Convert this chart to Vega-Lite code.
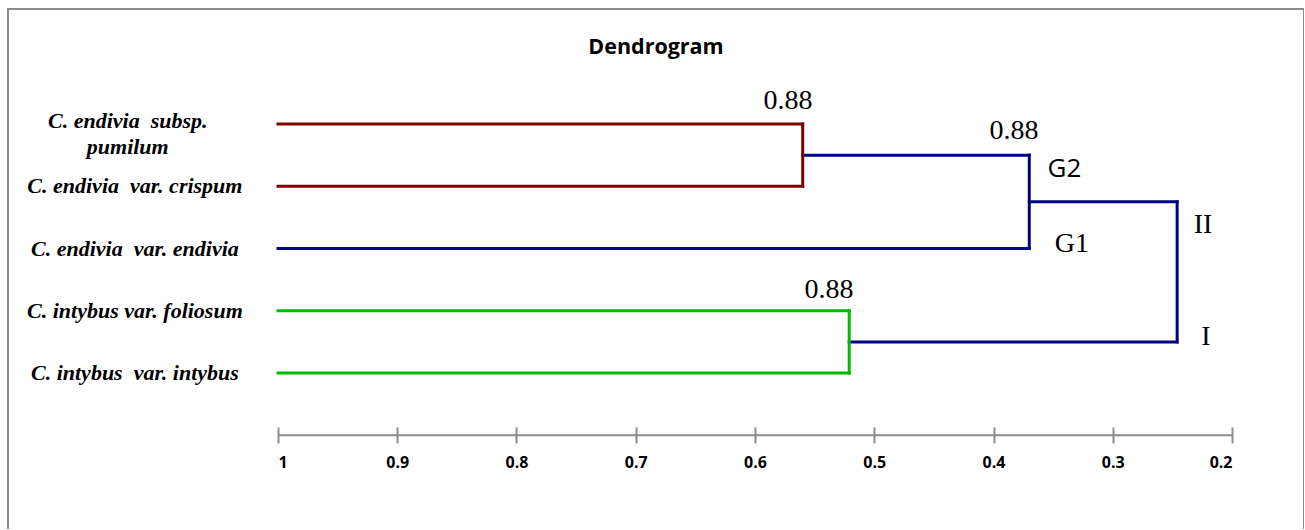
{
  "$schema": "https://vega.github.io/schema/vega-lite/v6.json",
  "width": 1296,
  "height": 520,
  "autosize": {"type": "none"},
  "padding": {"left": 8, "top": 9, "right": 0, "bottom": 0},
  "background": "white",
  "config": {
    "view": {"stroke": "#8c8c8c", "strokeWidth": 2, "strokeDash": [1816, 1296, 520]},
    "axisX": {
      "labelFont": "Open Sans",
      "labelFontWeight": "bold",
      "labelFontSize": 16,
      "labelColor": "#000000",
      "labelPadding": 11,
      "tickSize": 16,
      "tickColor": "#8c8c8c",
      "tickWidth": 2,
      "domain": false,
      "grid": false
    }
  },
  "title": {
    "text": "Dendrogram",
    "font": "Open Sans",
    "fontSize": 21.5,
    "fontWeight": "bold",
    "color": "#000000",
    "anchor": "middle",
    "baseline": "middle",
    "offset": -60
  },
  "datasets": {
    "segments": [
      {"x1": 1, "x2": 0.37, "y1": 3, "y2": 3, "cluster": "main"},
      {"x1": 0.56, "x2": 0.37, "y1": 1.5, "y2": 1.5, "cluster": "main"},
      {"x1": 0.37, "x2": 0.37, "y1": 1.5, "y2": 3, "cluster": "main"},
      {"x1": 0.37, "x2": 0.246, "y1": 2.25, "y2": 2.25, "cluster": "main"},
      {"x1": 0.246, "x2": 0.246, "y1": 2.25, "y2": 4.5, "cluster": "main"},
      {"x1": 0.521, "x2": 0.246, "y1": 4.5, "y2": 4.5, "cluster": "main"},
      {"x1": 1, "x2": 0.56, "y1": 1, "y2": 1, "cluster": "endivia"},
      {"x1": 1, "x2": 0.56, "y1": 2, "y2": 2, "cluster": "endivia"},
      {"x1": 0.56, "x2": 0.56, "y1": 1, "y2": 2, "cluster": "endivia"},
      {"x1": 1, "x2": 0.521, "y1": 4, "y2": 4, "cluster": "intybus"},
      {"x1": 1, "x2": 0.521, "y1": 5, "y2": 5, "cluster": "intybus"},
      {"x1": 0.521, "x2": 0.521, "y1": 4, "y2": 5, "cluster": "intybus"}
    ],
    "leaves": [
      {"name": "C. endivia\u00a0 subsp.\npumilum", "pos": 1, "lines": 2},
      {"name": "C. endivia\u00a0 var. crispum", "pos": 2, "lines": 1},
      {"name": "C. endivia\u00a0 var. endivia", "pos": 3, "lines": 1},
      {"name": "C. intybus var. foliosum", "pos": 4, "lines": 1},
      {"name": "C. intybus\u00a0 var. intybus", "pos": 5, "lines": 1}
    ],
    "notes": [
      {"text": "0.88", "x": 0.5723, "y": 0.759},
      {"text": "0.88", "x": 0.3828, "y": 1.241},
      {"text": "0.88", "x": 0.5379, "y": 3.795},
      {"text": "G1", "x": 0.3342, "y": 3.056},
      {"text": "II", "x": 0.2243, "y": 2.751},
      {"text": "I", "x": 0.2218, "y": 4.55}
    ],
    "groups": [
      {"text": "G2", "x": 0.3405, "y": 1.851}
    ]
  },
  "layer": [
    {
      "data": {"name": "segments"},
      "mark": {"type": "rule", "strokeWidth": 3, "strokeCap": "square"},
      "encoding": {
        "x": {
          "field": "x1",
          "type": "quantitative",
          "scale": {"domain": [1, 0.2], "range": [270, 1224], "nice": false, "zero": false},
          "axis": {
            "orient": "bottom",
            "offset": -102,
            "values": [1, 0.9, 0.8, 0.7, 0.6, 0.5, 0.4, 0.3, 0.2],
            "format": ".1~f",
            "domain": false,
            "grid": false,
            "tickSize": 16,
            "tickColor": "#8c8c8c",
            "tickWidth": 2,
            "labelFont": "Open Sans",
            "labelFontWeight": "bold",
            "labelFontSize": 16,
            "labelColor": "#000000",
            "labelPadding": 11,
            "title": null
          }
        },
        "x2": {"field": "x2"},
        "y": {
          "field": "y1",
          "type": "quantitative",
          "scale": {"domain": [0, 6], "range": [52.75, 426.25], "nice": false, "zero": false},
          "axis": null
        },
        "y2": {"field": "y2"},
        "color": {
          "field": "cluster",
          "type": "nominal",
          "scale": {"domain": ["main", "endivia", "intybus"], "range": ["#000080", "#7f0000", "#00bb00"]},
          "legend": null
        }
      }
    },
    {
      "data": {"values": [{"line": "axis"}]},
      "mark": {"type": "rule", "strokeWidth": 2, "color": "#8c8c8c"},
      "encoding": {
        "x": {"datum": 1, "type": "quantitative"},
        "x2": {"datum": 0.2},
        "y": {"datum": 6, "type": "quantitative"}
      }
    },
    {
      "data": {"name": "leaves"},
      "transform": [{"filter": "datum.lines == 1"}],
      "mark": {"type": "text", "font": "Liberation Serif", "fontSize": 22, "fontWeight": "bold", "fontStyle": "italic", "align": "center", "baseline": "middle", "color": "#000000"},
      "encoding": {
        "x": {"datum": 1.12, "type": "quantitative"},
        "y": {"field": "pos", "type": "quantitative"},
        "text": {"field": "name"}
      }
    },
    {
      "data": {"name": "leaves"},
      "transform": [{"filter": "datum.lines == 2"}],
      "mark": {"type": "text", "font": "Liberation Serif", "fontSize": 22, "fontWeight": "bold", "fontStyle": "italic", "align": "center", "baseline": "middle", "lineBreak": "\n", "lineHeight": 26, "dy": -3, "color": "#000000"},
      "encoding": {
        "x": {"datum": 1.126, "type": "quantitative"},
        "y": {"field": "pos", "type": "quantitative"},
        "text": {"field": "name"}
      }
    },
    {
      "data": {"name": "notes"},
      "mark": {"type": "text", "font": "Liberation Serif", "fontSize": 28, "align": "center", "baseline": "alphabetic", "color": "#000000"},
      "encoding": {
        "x": {"field": "x", "type": "quantitative"},
        "y": {"field": "y", "type": "quantitative"},
        "text": {"field": "text"}
      }
    },
    {
      "data": {"name": "groups"},
      "mark": {"type": "text", "font": "Open Sans", "fontSize": 26, "align": "center", "baseline": "alphabetic", "color": "#000000"},
      "encoding": {
        "x": {"field": "x", "type": "quantitative"},
        "y": {"field": "y", "type": "quantitative"},
        "text": {"field": "text"}
      }
    }
  ]
}
